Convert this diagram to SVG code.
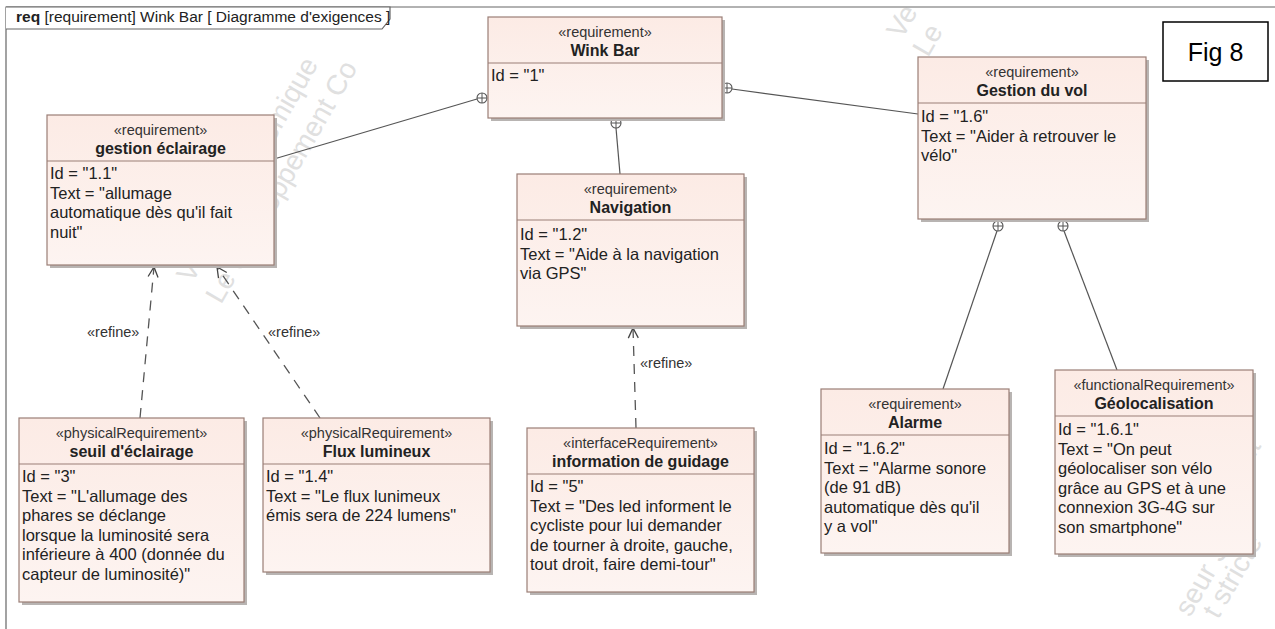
<svg xmlns="http://www.w3.org/2000/svg" width="1275" height="629" viewBox="0 0 1275 629">
<style>
.wm{font-family:"Liberation Sans",Arial,sans-serif;font-size:28px;fill:#e0e0e0}
.box{fill:url(#reqfill);stroke:#9a7e76;stroke-width:1.2}
.sh{fill:#b8b4b2}
.div{stroke:#9a7e76;stroke-width:1.2}
.st{font-family:"Liberation Sans",Arial,sans-serif;font-size:14.5px;fill:#333;text-anchor:middle}
.nm{font-family:"Liberation Sans",Arial,sans-serif;font-size:16px;font-weight:bold;fill:#222;text-anchor:middle}
.bd{font-family:"Liberation Sans",Arial,sans-serif;font-size:16.5px;fill:#222}
.own{stroke:#555;stroke-width:1.2;fill:none}
.ref{stroke:#555;stroke-width:1.3;fill:none;stroke-dasharray:10 8}
.lbl{font-family:"Liberation Sans",Arial,sans-serif;font-size:14.5px;fill:#333}
.circ{fill:#fff;stroke:#555;stroke-width:1.1}
</style>
<defs>
<linearGradient id="reqfill" x1="0" y1="0" x2="0" y2="1">
<stop offset="0" stop-color="#fcebe5"/>
<stop offset="1" stop-color="#fdf4f1"/>
</linearGradient>
<marker id="open" markerUnits="userSpaceOnUse" markerWidth="16" markerHeight="16" viewBox="-12 -8 14 16" refX="0" refY="0" orient="auto">
<path d="M-10,-5 L0,0 L-10,5" fill="none" stroke="#444" stroke-width="1.3" stroke-dasharray="none"/>
</marker>
</defs>
<rect width="1275" height="629" fill="#fff"/>

<g id="watermark">
<text class="wm" transform="translate(192,284) rotate(-60)">Version académique</text>
<text class="wm" transform="translate(221,305) rotate(-60)">Le développement Co</text>
<text class="wm" transform="translate(902,40) rotate(-60)">Ve</text>
<text class="wm" transform="translate(928,58) rotate(-60)">Le</text>
<text class="wm" transform="translate(1250,466) rotate(-60)">nt</text>
<text class="wm" transform="translate(1190,618) rotate(-60)">seur S</text>
<text class="wm" transform="translate(1218,620) rotate(-60)">t stricte</text>
</g>

<g id="frame">
<path d="M6,640 L6,7 L1290,7" fill="none" stroke="#666" stroke-width="1.2"/>
<path d="M6,7 L390,7 L390,19 L382,29 L6,29" fill="#fff" stroke="#666" stroke-width="1.2"/>
<text x="16" y="22" font-family="'Liberation Sans',Arial,sans-serif" font-size="15.5px" fill="#222"><tspan font-weight="bold">req</tspan> [requirement] Wink Bar [ Diagramme d'exigences ]</text>
</g>

<g id="connectors">
<line class="own" x1="477" y1="99" x2="274" y2="159"/>
<line class="own" x1="616" y1="128" x2="620" y2="174"/>
<line class="own" x1="732" y1="89" x2="918" y2="114"/>
<line class="own" x1="997" y1="231" x2="943" y2="389"/>
<line class="own" x1="1064" y1="231" x2="1117" y2="370"/>
<g class="circ">
<circle cx="482" cy="98" r="5"/>
<circle cx="616" cy="123" r="5"/>
<circle cx="727" cy="88" r="5"/>
<circle cx="998" cy="226" r="5"/>
<circle cx="1063" cy="226" r="5"/>
</g>
<path stroke="#555" stroke-width="1" d="M477,98h10M482,93v10M611,123h10M616,118v10M722,88h10M727,83v10M993,226h10M998,221v10M1058,226h10M1063,221v10"/>
<line class="ref" x1="140" y1="418" x2="154" y2="267" marker-end="url(#open)"/>
<line class="ref" x1="320" y1="418" x2="217" y2="267" marker-end="url(#open)"/>
<line class="ref" x1="636" y1="428" x2="633" y2="328" marker-end="url(#open)"/>
<text class="lbl" x="87" y="337">«refine»</text>
<text class="lbl" x="268" y="337">«refine»</text>
<text class="lbl" x="640" y="368">«refine»</text>
</g>

<g id="n-winkbar" transform="translate(488,17)">
<rect class="sh" x="3" y="3" width="234" height="101"/>
<rect class="box" width="234" height="101"/>
<line class="div" x1="0" y1="46" x2="234" y2="46"/>
<text class="st" x="117" y="19.5">«requirement»</text>
<text class="nm" x="117" y="38.5">Wink Bar</text>
<text class="bd" x="3" y="64">Id = "1"</text>
</g>

<g id="n-eclairage" transform="translate(47,115)">
<rect class="sh" x="3" y="3" width="227" height="150"/>
<rect class="box" width="227" height="150"/>
<line class="div" x1="0" y1="46" x2="227" y2="46"/>
<text class="st" x="113.5" y="19.5">«requirement»</text>
<text class="nm" x="113.5" y="38.5">gestion éclairage</text>
<text class="bd" x="3" y="64">Id = "1.1"<tspan x="3" dy="19.5">Text = "allumage</tspan><tspan x="3" dy="19.5">automatique dès qu'il fait</tspan><tspan x="3" dy="19.5">nuit"</tspan></text>
</g>

<g id="n-navigation" transform="translate(517,174)">
<rect class="sh" x="3" y="3" width="227" height="152"/>
<rect class="box" width="227" height="152"/>
<line class="div" x1="0" y1="46" x2="227" y2="46"/>
<text class="st" x="113.5" y="19.5">«requirement»</text>
<text class="nm" x="113.5" y="38.5">Navigation</text>
<text class="bd" x="3" y="66">Id = "1.2"<tspan x="3" dy="19.5">Text = "Aide à la navigation</tspan><tspan x="3" dy="19.5">via GPS"</tspan></text>
</g>

<g id="n-vol" transform="translate(918,57)">
<rect class="sh" x="3" y="3" width="228" height="162"/>
<rect class="box" width="228" height="162"/>
<line class="div" x1="0" y1="46" x2="228" y2="46"/>
<text class="st" x="114" y="19.5">«requirement»</text>
<text class="nm" x="114" y="38.5">Gestion du vol</text>
<text class="bd" x="3" y="65">Id = "1.6"<tspan x="3" dy="19.5">Text = "Aider à retrouver le</tspan><tspan x="3" dy="19.5">vélo"</tspan></text>
</g>

<g id="n-seuil" transform="translate(19,418)">
<rect class="sh" x="3" y="3" width="225" height="184"/>
<rect class="box" width="225" height="184"/>
<line class="div" x1="0" y1="46" x2="225" y2="46"/>
<text class="st" x="112.5" y="19.5">«physicalRequirement»</text>
<text class="nm" x="112.5" y="38.5">seuil d'éclairage</text>
<text class="bd" x="3" y="64">Id = "3"<tspan x="3" dy="19.5">Text = "L'allumage des</tspan><tspan x="3" dy="19.5">phares se déclange</tspan><tspan x="3" dy="19.5">lorsque la luminosité sera</tspan><tspan x="3" dy="19.5">inférieure à 400 (donnée du</tspan><tspan x="3" dy="19.5">capteur de luminosité)"</tspan></text>
</g>

<g id="n-flux" transform="translate(263,418)">
<rect class="sh" x="3" y="3" width="227" height="154"/>
<rect class="box" width="227" height="154"/>
<line class="div" x1="0" y1="46" x2="227" y2="46"/>
<text class="st" x="113.5" y="19.5">«physicalRequirement»</text>
<text class="nm" x="113.5" y="38.5">Flux lumineux</text>
<text class="bd" x="3" y="64">Id = "1.4"<tspan x="3" dy="19.5">Text = "Le flux lunimeux</tspan><tspan x="3" dy="19.5">émis sera de 224 lumens"</tspan></text>
</g>

<g id="n-guidage" transform="translate(527,428)">
<rect class="sh" x="3" y="3" width="227" height="164"/>
<rect class="box" width="227" height="164"/>
<line class="div" x1="0" y1="46" x2="227" y2="46"/>
<text class="st" x="113.5" y="19.5">«interfaceRequirement»</text>
<text class="nm" x="113.5" y="38.5">information de guidage</text>
<text class="bd" x="3" y="64">Id = "5"<tspan x="3" dy="19.5">Text = "Des led informent le</tspan><tspan x="3" dy="19.5">cycliste pour lui demander</tspan><tspan x="3" dy="19.5">de tourner à droite, gauche,</tspan><tspan x="3" dy="19.5">tout droit, faire demi-tour"</tspan></text>
</g>

<g id="n-alarme" transform="translate(821,389)">
<rect class="sh" x="3" y="3" width="188" height="164"/>
<rect class="box" width="188" height="164"/>
<line class="div" x1="0" y1="46" x2="188" y2="46"/>
<text class="st" x="94" y="19.5">«requirement»</text>
<text class="nm" x="94" y="38.5">Alarme</text>
<text class="bd" x="3" y="65">Id = "1.6.2"<tspan x="3" dy="19.5">Text = "Alarme sonore</tspan><tspan x="3" dy="19.5">(de 91 dB)</tspan><tspan x="3" dy="19.5">automatique dès qu'il</tspan><tspan x="3" dy="19.5">y a vol"</tspan></text>
</g>

<g id="n-geo" transform="translate(1055,370)">
<rect class="sh" x="3" y="3" width="198" height="184"/>
<rect class="box" width="198" height="184"/>
<line class="div" x1="0" y1="46" x2="198" y2="46"/>
<text class="st" x="99" y="19.5">«functionalRequirement»</text>
<text class="nm" x="99" y="38.5">Géolocalisation</text>
<text class="bd" x="3" y="65">Id = "1.6.1"<tspan x="3" dy="19.5">Text = "On peut</tspan><tspan x="3" dy="19.5">géolocaliser son vélo</tspan><tspan x="3" dy="19.5">grâce au GPS et à une</tspan><tspan x="3" dy="19.5">connexion 3G-4G sur</tspan><tspan x="3" dy="19.5">son smartphone"</tspan></text>
</g>

<g id="fig8">
<rect x="1163" y="22" width="105" height="59" fill="#fff" stroke="#000" stroke-width="1.5"/>
<text x="1215.5" y="61" text-anchor="middle" font-family="'Liberation Sans',Arial,sans-serif" font-size="25px" fill="#000">Fig 8</text>
</g>
</svg>
